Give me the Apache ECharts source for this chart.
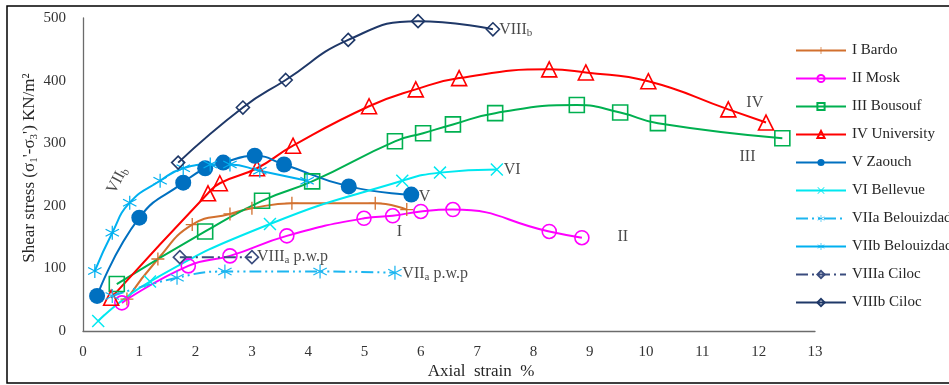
<!DOCTYPE html>
<html><head><meta charset="utf-8">
<script src="https://cdn.jsdelivr.net/npm/echarts@6/dist/echarts.min.js"></script>
<style>html,body{margin:0;padding:0;background:#fff}#c{width:949px;height:385px}</style>
</head><body><div id="c"></div>
<script>
// ---- data (axial strain %, shear stress kN/m2) ----
const xTicks = [0,1,2,3,4,5,6,7,8,9,10,11,12,13];
const yTicks = [0,100,200,300,400,500];
const seriesNames = ["I Bardo","II Mosk","III Bousouf","IV University","V Zaouch","VI Bellevue","VIIa Belouizdad","VIIb Belouizdad","VIIIa Ciloc","VIIIb Ciloc"];
const bardo = [[0.78,51],[1.33,115],[1.94,170],[2.61,187],[3.0,196],[3.71,204],[5.19,204],[5.75,194]];
const mosk = [[0.69,45],[1.87,104],[2.61,120],[3.62,152],[4.99,180],[5.5,184],[6.0,191],[6.57,194],[8.28,159],[8.86,149]];
const bousouf = [[0.6,75],[2.17,159],[3.18,208],[4.07,239],[5.54,303],[6.04,316],[6.57,330],[7.32,348],[8.77,361],[9.54,349],[10.21,332],[12.42,308]];
const university = [[0.5,53],[2.22,220],[2.43,236],[3.09,260],[3.73,296],[5.08,359],[5.91,386],[6.68,404],[8.28,418],[8.93,413],[10.04,399],[11.46,354],[12.13,333]];
const zaouch = [[0.25,56],[1.0,181],[1.78,237],[2.17,260],[2.49,269],[3.05,280],[3.57,266],[4.72,231],[5.83,218]];
const bellevue = [[0.27,16],[1.19,79],[3.32,171],[5.67,240],[6.34,253],[7.35,258]];
const belouizdadA = [[0.52,56],[1.67,85],[2.52,95],[4.21,95],[5.54,93]];
const belouizdadB = [[0.21,96],[0.52,157],[0.83,205],[1.37,240],[1.78,260],[2.26,266],[2.61,266],[3.14,256],[3.98,240]];
const cilocA = [[1.72,118],[3.0,118]];
const cilocB = [[1.69,269],[2.84,357],[3.6,401],[4.71,465],[5.95,495],[7.28,482]];
// curve annotations: [x, y, main text, subscript, suffix, align, rotate]
const annotations = [
  [7.4,481,"VIII","b","","left",0],
  [11.94,364,"IV","","","center",0],
  [11.81,277,"III","","","center",0],
  [7.48,256,"VI","","","left",0],
  [5.97,213,"V","","","left",0],
  [5.63,157,"I","","","center",0],
  [9.5,149,"II","","","left",0],
  [3.1,118,"VIII","a"," p.w.p","left",0],
  [5.68,91,"VII","a"," p.w.p","left",0],
  [0.62,240,"VII","b","","center",62]
];

const FONT = '"Liberation Serif","Times New Roman",serif';
const plus = 'path://M4.5,0h1v10h-1z M0,4.5h10v1h-10z';
const cross = 'path://M1.35,0.65L9.35,8.65L8.65,9.35L0.65,1.35z M0.65,8.65L8.65,0.65L9.35,1.35L1.35,9.35z';
const star = 'path://M4.6,0h0.8v10h-0.8z M0.9,2.154L9.5,7.154L9.1,7.846L0.5,2.846z M0.5,7.154L9.1,2.154L9.5,2.846L0.9,7.846z';

function mk(name, data, color, symbol, size, opts) {
  opts = opts || {};
  return {
    name, type: 'line', data, smooth: opts.smooth === undefined ? 0.5 : opts.smooth,
    symbol, symbolSize: size, showSymbol: true,
    lineStyle: { color, width: 2, type: opts.dash || 'solid' },
    itemStyle: opts.hollow ? { color: 'rgba(255,255,255,0)', borderColor: color, borderWidth: 1.6 }
                           : { color, borderColor: color, borderWidth: 0 },
    z: opts.z || 2, silent: true, animation: false
  };
}

const chart = echarts.init(document.getElementById('c'), null, { renderer: 'canvas' });
const series = [
  mk(seriesNames[0], bardo, '#D2702E', plus, 13),
  mk(seriesNames[1], mosk, '#FF00FF', 'circle', 14, { hollow: true }),
  mk(seriesNames[2], bousouf, '#00B050', 'rect', 15, { hollow: true }),
  mk(seriesNames[3], university, '#FF0000', 'triangle', 15, { hollow: true }),
  mk(seriesNames[4], zaouch, '#0070C0', 'circle', 16),
  mk(seriesNames[5], bellevue, '#00E8F0', cross, 13),
  mk(seriesNames[6], belouizdadA, '#1DB6F0', star, 14, { dash: [12,4,2,4,2,4] }),
  mk(seriesNames[7], belouizdadB, '#00B0F0', star, 14),
  mk(seriesNames[8], cilocA, '#3A4C7E', 'diamond', 13, { hollow: true, dash: [12,4,2,4], smooth: false }),
  mk(seriesNames[9], cilocB, '#1F3868', 'diamond', 13, { hollow: true }),
  {
    name: 'annotations', type: 'scatter', silent: true, animation: false,
    symbolSize: 1, itemStyle: { color: 'rgba(0,0,0,0)' }, z: 10,
    data: annotations.map(a => ({
      value: [a[0], a[1]],
      label: {
        show: true, position: [0, 0], align: a[5], verticalAlign: 'middle', rotate: a[6],
        formatter: '{n|' + a[2] + '}' + (a[3] ? '{s|' + a[3] + '}' : '') + (a[4] ? '{n|' + a[4] + '}' : ''),
        rich: {
          n: { fontFamily: FONT, fontSize: 16, color: '#1a1a1a', lineHeight: 18 },
          s: { fontFamily: FONT, fontSize: 11, color: '#1a1a1a', verticalAlign: 'bottom', lineHeight: 18, padding: [6, 0, 0, 0] }
        }
      }
    }))
  }
];

chart.setOption({
  animation: false,
  grid: { left: 83, right: 134, top: 18, bottom: 54 },
  xAxis: {
    type: 'value', min: 0, max: 13, interval: 1,
    axisLine: { show: true, lineStyle: { color: '#6b6b6b', width: 1.3 } },
    axisTick: { show: false }, splitLine: { show: false },
    axisLabel: { fontFamily: FONT, fontSize: 15, color: '#333', margin: 14,
      formatter: v => xTicks.includes(v) ? String(v) : '' }
  },
  yAxis: {
    type: 'value', min: 0, max: 500, interval: 100,
    axisLine: { show: true, lineStyle: { color: '#6b6b6b', width: 1.3 } },
    axisTick: { show: false }, splitLine: { show: false },
    axisLabel: { fontFamily: FONT, fontSize: 15, color: '#333', margin: 17,
      formatter: v => yTicks.includes(v) ? String(v) : '' }
  },
  legend: {
    data: seriesNames, orient: 'vertical', left: 790, top: 38,
    itemWidth: 50, itemHeight: 9, itemGap: 13,
    textStyle: { fontFamily: FONT, fontSize: 15, color: '#262626', padding: [0, 0, 0, 1] },
    selectedMode: false
  },
  graphic: [
    { type: 'rect', shape: { x: 7, y: 6, width: 980, height: 377 }, style: { fill: 'none', stroke: '#000', lineWidth: 1.5 }, silent: true, z: -1 },
    { type: 'text', x: 481, y: 372, style: { text: 'Axial  strain  %', font: '17px ' + FONT, fill: '#262626', align: 'center', verticalAlign: 'middle' } },
    { type: 'text', x: 30, y: 168, rotation: Math.PI / 2,
      style: {
        text: "{n|Shear stress (σ}{s|1}{n|'-σ}{s|3}{n|') KN/m²}",
        align: 'center', verticalAlign: 'middle',
        rich: {
          n: { fontFamily: FONT, fontSize: 17, fill: '#262626', lineHeight: 20 },
          s: { fontFamily: FONT, fontSize: 11, fill: '#262626', verticalAlign: 'bottom', lineHeight: 20, padding: [6, 0, 0, 0] }
        }
      } }
  ],
  series
});
</script></body></html>
